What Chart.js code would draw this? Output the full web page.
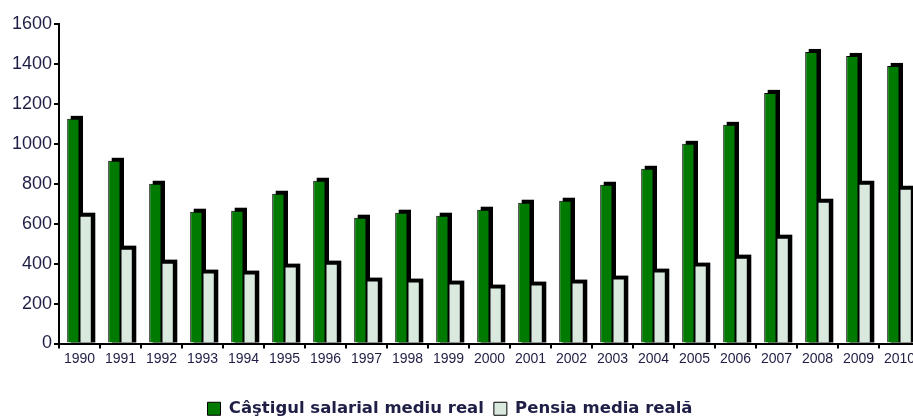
<!DOCTYPE html>
<html>
<head>
<meta charset="utf-8">
<script src="https://cdn.jsdelivr.net/npm/chart.js@4"></script>
<style>
    html, body { margin: 0; padding: 0; background: #fff; overflow: hidden; }
    #wrap { width: 920px; height: 427px; }
</style>
</head>
<body>
<div id="wrap"><canvas id="salaryChart" width="920" height="427"></canvas></div>
<script>
// Date
const years = ['1990', '1991', '1992', '1993', '1994', '1995', '1996', '1997', '1998', '1999', '2000',
    '2001', '2002', '2003', '2004', '2005', '2006', '2007', '2008', '2009', '2010'];
const castigSalarial = [1125, 915, 800, 660, 665, 750, 815, 630, 655, 640, 670,
    705, 715, 795, 875, 1000, 1095, 1255, 1460, 1440, 1390];
const pensiaMedie = [640, 475, 405, 355, 350, 385, 400, 315, 310, 300, 280,
    295, 305, 325, 360, 390, 430, 530, 710, 800, 775];
const yTicks = [0, 200, 400, 600, 800, 1000, 1200, 1400, 1600];

const textColor = '#1e1e46';

// Umbra "3D" a barelor, desenata inaintea barelor
const barShadow = {
    id: 'barShadow',
    afterLayout(chart) {
        // legenda putin mai la stanga, ca in original
        if (chart.legend) {
            chart.legend.left -= 10;
            chart.legend.right -= 10;
        }
    },
    beforeDatasetsDraw(chart) {
        const ctx = chart.ctx;
        const dx = 3.5, dy = 3;
        ctx.save();
        ctx.fillStyle = '#000';
        chart.data.datasets.forEach((ds, i) => {
            chart.getDatasetMeta(i).data.forEach(bar => {
                const { x, y, base, width } = bar.getProps(['x', 'y', 'base', 'width'], true);
                ctx.fillRect(x - width / 2 + dx, y - dy, width, base - y + dy);
            });
        });
        ctx.restore();
    }
};

const ctx = document.getElementById('salaryChart');
new Chart(ctx, {
    type: 'bar',
    data: {
        labels: years,
        datasets: [{
            label: 'Câştigul salarial mediu real',
            data: castigSalarial,
            backgroundColor: '#007a00',
            borderColor: '#000',
            borderWidth: 1
        }, {
            label: 'Pensia media reală',
            data: pensiaMedie,
            backgroundColor: '#d9e9de',
            borderColor: '#000',
            borderWidth: 1
        }]
    },
    options: {
        responsive: false,
        animation: false,
        devicePixelRatio: 1,
        layout: { padding: { top: 24, left: 0, right: 0, bottom: 0 } },
        datasets: {
            bar: { categoryPercentage: 0.6, barPercentage: 1.0 }
        },
        plugins: {
            tooltip: { enabled: false },
            legend: {
                position: 'bottom',
                labels: {
                    boxWidth: 13,
                    boxHeight: 13,
                    padding: 10,
                    color: textColor,
                    font: { family: '"DejaVu Sans", Verdana, sans-serif', size: 16.5, weight: 'bold' }
                }
            }
        },
        scales: {
            x: {
                grid: { display: true, drawOnChartArea: false, drawTicks: true, tickLength: 5, color: '#000', lineWidth: 2 },
                border: { color: '#000', width: 2 },
                ticks: {
                    color: textColor,
                    maxRotation: 0,
                    autoSkip: false,
                    padding: 2,
                    font: { family: 'Arial, "Liberation Sans", sans-serif', size: 14 }
                },
                afterFit: (scale) => { scale.height = 47; }
            },
            y: {
                min: 0,
                max: 1600,
                afterBuildTicks: (scale) => { scale.ticks = yTicks.map(v => ({ value: v })); },
                grid: { display: true, drawOnChartArea: false, drawTicks: true, tickLength: 5, color: '#000', lineWidth: 2 },
                border: { color: '#000', width: 2 },
                ticks: {
                    color: textColor,
                    padding: 2,
                    callback: (value) => String(value),
                    font: { family: 'Arial, "Liberation Sans", sans-serif', size: 18 }
                },
                afterFit: (scale) => { scale.width = 59; }
            }
        }
    },
    plugins: [barShadow]
});
</script>
</body>
</html>
